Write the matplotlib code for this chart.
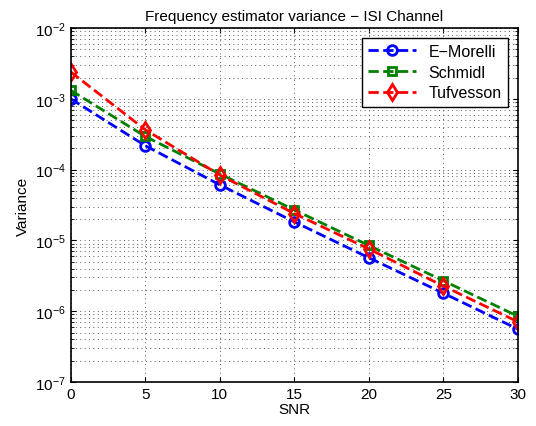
import numpy as np
import matplotlib.pyplot as plt

plt.rcParams['font.family'] = ['Liberation Sans', 'DejaVu Sans']
plt.rcParams['font.size'] = 11

snr = [0, 5, 10, 15, 20, 25, 30]
morelli = [1.0e-3, 2.18e-4, 6.1e-5, 1.83e-5, 5.7e-6, 1.8e-6, 5.6e-7]
schmidl = [1.32e-3, 2.95e-4, 8.7e-5, 2.7e-5, 8.5e-6, 2.7e-6, 8.5e-7]
tufvesson = [2.4e-3, 3.66e-4, 8.4e-5, 2.4e-5, 7.6e-6, 2.27e-6, 7.1e-7]

fig = plt.figure(figsize=(5.36, 4.27), dpi=100)
ax = fig.add_axes([0.132, 0.103, 0.834, 0.829])

ax.semilogy(snr, morelli, '--o', color='b', lw=2, ms=7, mfc='none', mew=2, label='E\u2212Morelli')
ax.semilogy(snr, schmidl, '--s', color='g', lw=2, ms=6, mfc='none', mew=2, label='Schmidl')
ax.semilogy(snr, tufvesson, '--d', color='r', lw=2, ms=8, mfc='none', mew=2, label='Tufvesson')

ax.set_xlim(0, 30)
ax.set_ylim(1e-7, 1e-2)
ax.set_xticks([0, 5, 10, 15, 20, 25, 30])
grid_kw = dict(linestyle=(0, (1, 3.5)), color='0.35', lw=0.7)
ax.grid(True, which='major', **grid_kw)
ax.grid(True, which='minor', axis='y', **grid_kw)
ax.tick_params(which='both', direction='in', top=True, right=True)
for s in ax.spines.values():
    s.set_linewidth(1.2)

ax.set_xlabel('SNR', labelpad=1)
ax.set_ylabel('Variance', labelpad=4)
ax.set_title('Frequency estimator variance \u2212 ISI Channel', fontsize=11, pad=6)

leg = ax.legend(loc='upper right', fancybox=False, framealpha=1, edgecolor='k',
                handlelength=3, borderaxespad=0.6, fontsize=11.5, labelspacing=0.35)
leg.get_frame().set_linewidth(1)

fig.savefig('out.png', dpi=100)
